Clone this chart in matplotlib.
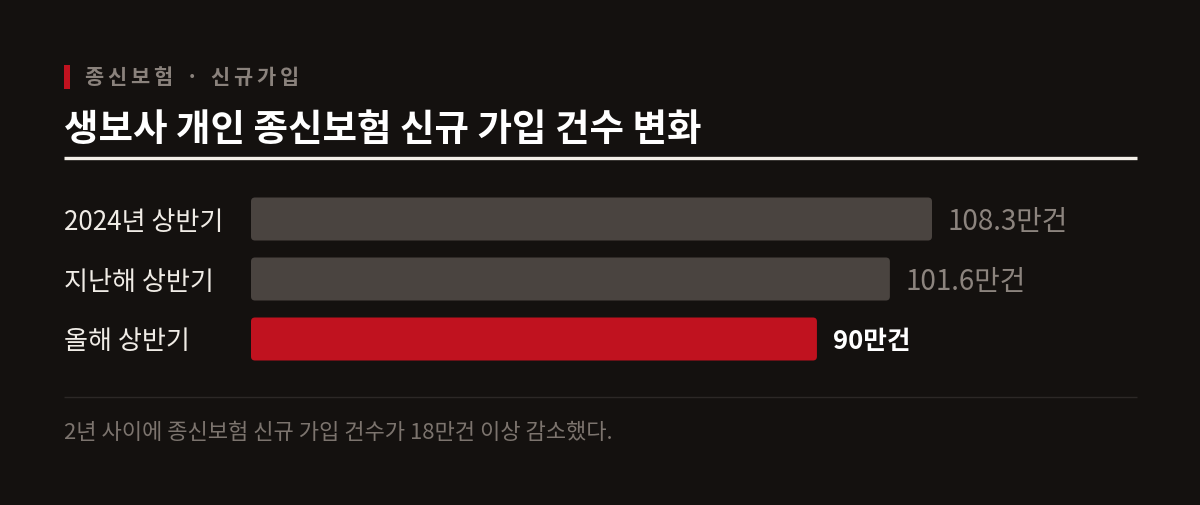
"""Horizontal bar chart: new whole-life insurance sign-ups, dark theme."""
import matplotlib
matplotlib.use('Agg')
import matplotlib.pyplot as plt
from matplotlib import transforms
from matplotlib.patches import FancyBboxPatch, Rectangle

plt.rcParams['font.family'] = ['Noto Sans CJK KR', 'DejaVu Sans']

categories = ['2024년 상반기', '지난해 상반기', '올해 상반기']
values = [108.3, 101.6, 90.0]
value_labels = ['108.3만건', '101.6만건', '90만건']
kicker = '종신보험 · 신규가입'
title = '생보사 개인 종신보험 신규 가입 건수 변화'
note = '2년 사이에 종신보험 신규 가입 건수가 18만건 이상 감소했다.'

BG = '#14110f'
GRAY_BAR = '#4a4440'
RED = '#c0121f'
W, H = 1200, 506

fig = plt.figure(figsize=(W / 100, H / 100), dpi=100, facecolor=BG)


def fx(x):
    return x / W


def fy(y):
    return 1 - y / H


# kicker: red tick + spaced-out grey text
fig.patches.append(Rectangle((fx(64), fy(90)), fx(6), 24 / H, transform=fig.transFigure,
                             facecolor=RED, edgecolor='none'))
renderer = fig.canvas.get_renderer()
x = 84
for ch in kicker:
    t = fig.text(fx(x), fy(78), ch, color='#8a827c', fontsize=15, fontweight='bold',
                 ha='left', va='center')
    w = t.get_window_extent(renderer).width
    x += w + 4

fig.text(fx(64), fy(129), title, color='#ffffff', fontsize=27, fontweight='bold',
         ha='left', va='center')
fig.add_artist(plt.Line2D([fx(64), fx(1137)], [fy(159), fy(159)], color='#f3efe8',
                          linewidth=2.4, solid_capstyle='butt',
                          transform=fig.transFigure))

# bar axes: zero at x=251, 60px per row
px_per_unit = (932 - 251) / 108.3
ax = fig.add_axes([fx(251), fy(370), fx(1137 - 251), 180 / H])
ax.set_facecolor('none')
ax.set_xlim(0, (1137 - 251) / px_per_unit)
ax.set_ylim(2.5, -0.5)
ax.axis('off')

colors = [GRAY_BAR, GRAY_BAR, RED]
bars = ax.barh(range(len(values)), values, height=43 / 60, color=colors)
aspect = (1 / 60) / (1 / px_per_unit)
for b in bars:
    bx, by = b.get_x(), b.get_y()
    bw, bh = b.get_width(), b.get_height()
    rp = FancyBboxPatch((bx, by), bw, bh,
                        boxstyle=f'round,pad=0,rounding_size={4 / px_per_unit}',
                        mutation_aspect=aspect, facecolor=b.get_facecolor(),
                        edgecolor='none')
    b.set_visible(False)
    ax.add_patch(rp)

lab_tr = transforms.offset_copy(
    transforms.blended_transform_factory(fig.transFigure, ax.transData),
    fig=fig, x=0, y=-2, units='dots')
for i, cat in enumerate(categories):
    ax.text(fx(64), i, cat, transform=lab_tr, color='#f0ece6', fontsize=18.8,
            ha='left', va='center')

val_tr = transforms.offset_copy(ax.transData, fig=fig, x=16, y=-2, units='dots')
for i, (v, lab) in enumerate(zip(values, value_labels)):
    last = i == len(values) - 1
    ax.text(v, i, lab, transform=val_tr, fontsize=18.5 if last else 20,
            color='#ffffff' if last else '#8c847e',
            fontweight='bold' if last else 'normal', ha='left', va='center')

fig.add_artist(plt.Line2D([fx(64), fx(1137)], [fy(398), fy(398)], color='#2c2826',
                          linewidth=1, solid_capstyle='butt',
                          transform=fig.transFigure))
fig.text(fx(64), fy(433), note, color='#7c746e', fontsize=15.9, ha='left', va='center')

fig.savefig('out.png', dpi=100, facecolor=BG)
